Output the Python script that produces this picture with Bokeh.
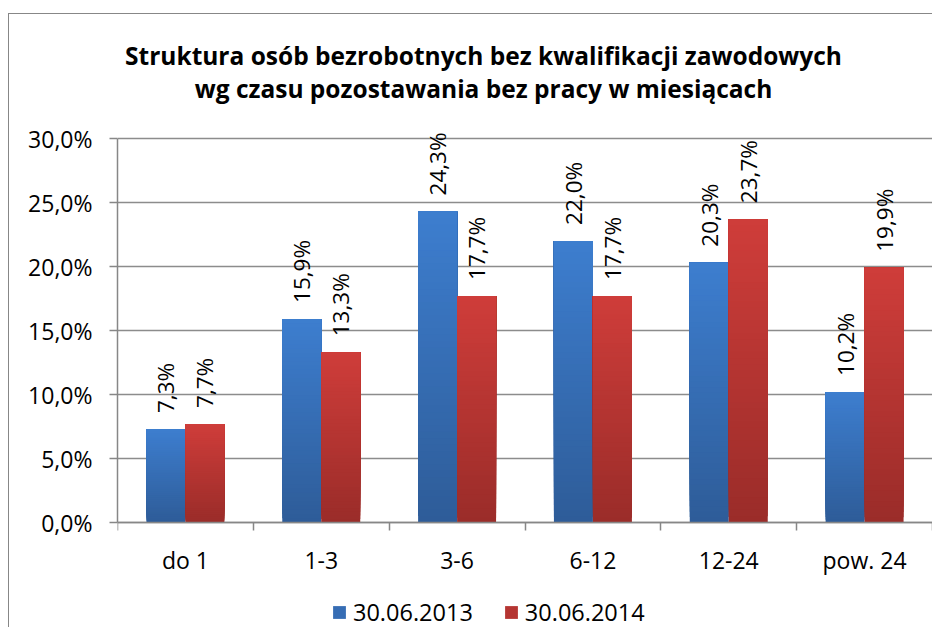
import numpy as np
from bokeh.plotting import figure
from bokeh.models import (ColumnDataSource, FixedTicker, Label, Legend, LegendItem, Range1d)
from bokeh.embed import file_html
from bokeh.resources import INLINE
from bokeh.core.properties import value

# ---- data ----
categories = ["do 1", "1-3", "3-6", "6-12", "12-24", "pow. 24"]
series_names = ["30.06.2013", "30.06.2014"]
values_2013 = [7.3, 15.9, 24.3, 22.0, 20.3, 10.2]
values_2014 = [7.7, 13.3, 17.7, 17.7, 23.7, 19.9]
y_ticks = [0, 5, 10, 15, 20, 25, 30]
y_tick_labels = ["0,0%", "5,0%", "10,0%", "15,0%", "20,0%", "25,0%", "30,0%"]
title_lines = ["Struktura osób bezrobotnych bez kwalifikacji zawodowych",
               "wg czasu pozostawania bez pracy w miesiącach"]

# ---- layout constants (pixels) ----
FONT = "Open Sans"
GRAY = "#878787"
BAR_W = 0.287
N_BANDS = 48
W, H = 924, 614
FRAME_LEFT, FRAME_RIGHT = 108, 923
AXIS_TOP_PX, AXIS_BOTTOM_PX = 124, 508      # where 30% and 0% lie on the canvas
TITLE_PX = [41, 74]                          # title line centres on the canvas
TITLE_CX_PX = 474

px_per_unit = (AXIS_BOTTOM_PX - AXIS_TOP_PX) / (y_ticks[-1] - y_ticks[0])
y_lo = y_ticks[0] - (H - AXIS_BOTTOM_PX) / px_per_unit
y_hi = y_ticks[-1] + AXIS_TOP_PX / px_per_unit
x_per_px = len(categories) / (FRAME_RIGHT - FRAME_LEFT)

# gradient colours (top, bottom)
series_colors = [((61, 126, 207), (46, 92, 152)), ((207, 61, 58), (154, 44, 41))]


def hexcol(c):
    return "#%02x%02x%02x" % tuple(int(round(v)) for v in c)


p = figure(width=W, height=H, output_backend="svg", toolbar_location=None,
           x_range=Range1d(0, len(categories)), y_range=Range1d(y_lo, y_hi),
           min_border_left=FRAME_LEFT, min_border_right=W - FRAME_RIGHT,
           min_border_top=0, min_border_bottom=0, title=None)
p.styles = {"border-left": "1px solid #878787", "border-top": "1px solid #878787"}
p.margin = (13, 0, 0, 8)
p.outline_line_color = None
p.background_fill_color = "white"
p.border_fill_color = "white"

# title (two centred lines)
for line, ty in zip(title_lines, TITLE_PX):
    p.add_layout(Label(x=(TITLE_CX_PX - FRAME_LEFT) * x_per_px,
                       y=y_ticks[-1] + (AXIS_TOP_PX - ty) / px_per_unit,
                       text=line, text_align="center", text_baseline="middle",
                       text_font=FONT, text_font_size="24.5px", text_font_style="bold",
                       text_color="#000000"))

centres = np.arange(len(categories)) + 0.5
renderers = []
for s, (vals, cols) in enumerate(zip([values_2013, values_2014], series_colors)):
    offset = (-0.5 + s) * BAR_W
    xs, bots, tops, colors = [], [], [], []
    top_c, bot_c = np.array(cols[0], float), np.array(cols[1], float)
    for k in range(N_BANDS):
        f = (k + 0.5) / N_BANDS
        for i, v in enumerate(vals):
            xs.append(centres[i] + offset)
            bots.append(v * k / N_BANDS)
            tops.append(v)
            colors.append(hexcol(bot_c + (top_c - bot_c) * f))
    src = ColumnDataSource(dict(x=xs, bottom=bots, top=tops, color=colors))
    r = p.vbar(x="x", bottom="bottom", top="top", width=BAR_W, source=src,
               fill_color="color", line_color=None)
    renderers.append(r)
    lab = [("%.1f" % v).replace(".", ",") + "%" for v in vals]
    p.text(x=list(centres + offset), y=vals, text=lab, angle=np.pi / 2,
           text_align="left", text_baseline="middle", y_offset=-16,
           text_font=value(FONT), text_font_size="22.5px", text_color="#000000")

# axes
p.yaxis.ticker = FixedTicker(ticks=y_ticks)
p.yaxis.bounds = (y_ticks[0], y_ticks[-1])
p.yaxis.major_label_overrides = {t: l for t, l in zip(y_ticks, y_tick_labels)}
p.yaxis.major_tick_out = 8
p.yaxis.major_tick_in = 0
p.yaxis.major_label_standoff = 17

p.xaxis.fixed_location = y_ticks[0]
p.xaxis.ticker = FixedTicker(ticks=[float(c) for c in centres],
                             minor_ticks=list(range(len(categories) + 1)))
p.xaxis.major_label_overrides = {float(c): cat for c, cat in zip(centres, categories)}
p.xaxis.major_tick_out = 0
p.xaxis.major_tick_in = 0
p.xaxis.minor_tick_out = 8
p.xaxis.minor_tick_in = 0
p.xaxis.major_label_standoff = 13

for ax in (p.xaxis, p.yaxis):
    ax.axis_line_color = GRAY
    ax.axis_line_width = 1.5
    ax.major_tick_line_color = GRAY
    ax.major_tick_line_width = 1.5
    ax.minor_tick_line_width = 1.5
    ax.major_label_text_font = FONT
    ax.major_label_text_font_size = "23px"
    ax.major_label_text_color = "#000000"
p.xaxis.minor_tick_line_color = GRAY
p.yaxis.minor_tick_line_color = None

p.xgrid.visible = False
p.ygrid.ticker = FixedTicker(ticks=y_ticks)
p.ygrid.grid_line_color = "#8c8c8c"
p.ygrid.grid_line_width = 1.3

legend = Legend(items=[LegendItem(label=series_names[i], renderers=[renderers[i]], index=N_BANDS * 6 // 2)
                       for i in range(2)],
                orientation="horizontal", location=(214, 0),
                glyph_width=16, glyph_height=16, label_standoff=6, spacing=30,
                label_text_font=FONT, label_text_font_size="23.5px", label_text_color="#000000",
                border_line_color=None, background_fill_alpha=0, margin=0, padding=3)
p.add_layout(legend, "center")

open("out.html", "w").write(file_html(p, INLINE))
